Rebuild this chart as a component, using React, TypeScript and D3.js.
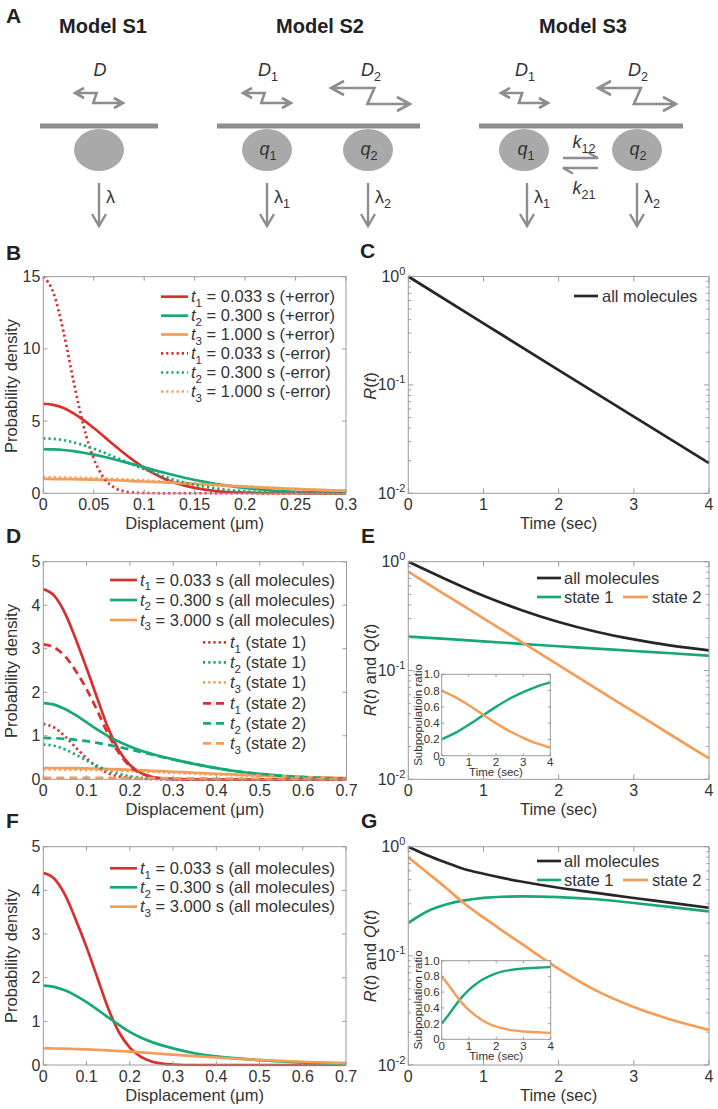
import React from 'react';
import * as d3 from 'd3';

const FONT = "'Liberation Sans', Arial, Helvetica, sans-serif";
const C_RED = '#d7302f';
const C_GREEN = '#16a878';
const C_ORANGE = '#f59d57';
const C_BLACK = '#262626';
const C_TEXT = '#333333';
const C_AXIS = '#9c9c9c';
const C_DIAG = '#8d8d8d';
const C_CIRCLE = '#a9a9a9';

// ---------- Panel B data ----------
const bDisp = [0, 0.01, 0.02, 0.03, 0.04, 0.05, 0.06, 0.07, 0.08, 0.09, 0.1, 0.12, 0.14, 0.16, 0.18, 0.2, 0.22, 0.24, 0.26, 0.28, 0.3];
const bRedPlus = [6.2, 6.12, 5.9, 5.54, 5.07, 4.52, 3.94, 3.35, 2.77, 2.24, 1.76, 1.01, 0.53, 0.25, 0.1, 0.04, 0.015, 0.005, 0.001, 0, 0];
const bGreenPlus = [3.06, 3.04, 3.0, 2.92, 2.81, 2.68, 2.53, 2.36, 2.18, 1.99, 1.8, 1.42, 1.08, 0.79, 0.55, 0.37, 0.23, 0.14, 0.08, 0.05, 0.03];
const bOrangePlus = [0.99, 0.988, 0.982, 0.973, 0.96, 0.944, 0.925, 0.902, 0.877, 0.849, 0.818, 0.753, 0.682, 0.608, 0.533, 0.462, 0.395, 0.33, 0.274, 0.224, 0.179];
const bRedMinus = [15, 13.9, 11.2, 7.75, 4.63, 2.4, 1.07, 0.41, 0.14, 0.04, 0.01, 0, 0, 0, 0, 0, 0, 0, 0, 0, 0];
const bGreenMinus = [3.8, 3.77, 3.68, 3.53, 3.33, 3.09, 2.82, 2.53, 2.24, 1.94, 1.66, 1.15, 0.75, 0.46, 0.26, 0.14, 0.07, 0.03, 0.015, 0.006, 0.002];
const bOrangeMinus = [1.1, 1.098, 1.09, 1.08, 1.064, 1.044, 1.02, 0.994, 0.963, 0.93, 0.894, 0.816, 0.733, 0.647, 0.561, 0.48, 0.403, 0.333, 0.27, 0.216, 0.17];
const bXTicks = [0, 0.05, 0.1, 0.15, 0.2, 0.25, 0.3];
const bXLabels = ['0', '0.05', '0.1', '0.15', '0.2', '0.25', '0.3'];
const bYTicks = [0, 5, 10, 15];
const bTimes = ['0.033', '0.300', '1.000'];

// ---------- Panel C data ----------
const cTime = [0, 1, 2, 3, 4];
const cAll = [1.0, 0.37, 0.137, 0.051, 0.019];

// ---------- Panel D data ----------
const dDisp = [0, 0.025, 0.05, 0.075, 0.1, 0.125, 0.15, 0.175, 0.2, 0.225, 0.25, 0.275, 0.3, 0.35, 0.4, 0.45, 0.5, 0.55, 0.6, 0.65, 0.7];
const dRedAll = [4.37, 4.22, 3.82, 3.22, 2.55, 1.85, 1.17, 0.66, 0.33, 0.15, 0.06, 0.02, 0.006, 0, 0, 0, 0, 0, 0, 0, 0];
const dGreenAll = [1.75, 1.715, 1.616, 1.473, 1.308, 1.141, 0.99, 0.861, 0.753, 0.663, 0.587, 0.518, 0.458, 0.35, 0.257, 0.18, 0.124, 0.08, 0.05, 0.03, 0.018];
const dOrangeAll = [0.26, 0.26, 0.258, 0.255, 0.25, 0.244, 0.236, 0.228, 0.218, 0.208, 0.197, 0.186, 0.174, 0.151, 0.128, 0.106, 0.086, 0.068, 0.053, 0.04, 0.03];
const dRedS1 = [1.27, 1.19, 0.99, 0.73, 0.48, 0.28, 0.14, 0.06, 0.03, 0.01, 0.003, 0, 0, 0, 0, 0, 0, 0, 0, 0, 0];
const dGreenS1 = [0.8, 0.77, 0.686, 0.566, 0.432, 0.305, 0.2, 0.121, 0.068, 0.035, 0.017, 0.008, 0.003, 0, 0, 0, 0, 0, 0, 0, 0];
const dOrangeS1 = [0.225, 0.225, 0.223, 0.22, 0.216, 0.211, 0.204, 0.197, 0.188, 0.179, 0.17, 0.16, 0.15, 0.13, 0.11, 0.091, 0.074, 0.058, 0.045, 0.034, 0.025];
const dRedS2 = [3.1, 3.03, 2.83, 2.49, 2.07, 1.57, 1.03, 0.6, 0.3, 0.14, 0.057, 0.02, 0.006, 0, 0, 0, 0, 0, 0, 0, 0];
const dGreenS2 = [0.95, 0.945, 0.93, 0.907, 0.876, 0.836, 0.79, 0.74, 0.685, 0.628, 0.57, 0.51, 0.455, 0.35, 0.257, 0.18, 0.124, 0.08, 0.05, 0.03, 0.018];
const dOrangeS2 = [0.035, 0.035, 0.035, 0.035, 0.034, 0.033, 0.032, 0.031, 0.03, 0.029, 0.027, 0.026, 0.024, 0.021, 0.018, 0.015, 0.012, 0.01, 0.008, 0.006, 0.005];
const dXTicks = [0, 0.1, 0.2, 0.3, 0.4, 0.5, 0.6, 0.7];
const dYTicks = [0, 1, 2, 3, 4, 5];
const dTimes = ['0.033', '0.300', '3.000'];

// ---------- Panel E data ----------
const eTime = [0, 0.5, 1, 1.5, 2, 2.5, 3, 3.5, 4];
const eAll = [1.0, 0.69, 0.486, 0.36, 0.279, 0.227, 0.193, 0.169, 0.153];
const eState1 = [0.205, 0.195, 0.185, 0.176, 0.167, 0.159, 0.151, 0.144, 0.137];
const eState2 = [0.81, 0.494, 0.301, 0.184, 0.112, 0.068, 0.0417, 0.0254, 0.0156];
const eRatio1 = [0.2, 0.28, 0.38, 0.49, 0.6, 0.7, 0.78, 0.85, 0.9];
const eRatio2 = [0.8, 0.72, 0.62, 0.51, 0.4, 0.3, 0.22, 0.15, 0.1];

// ---------- Panel F data ----------
const fDisp = [0, 0.025, 0.05, 0.075, 0.1, 0.125, 0.15, 0.175, 0.2, 0.225, 0.25, 0.275, 0.3, 0.35, 0.4, 0.45, 0.5, 0.55, 0.6, 0.65, 0.7];
const fRed = [4.4, 4.27, 3.9, 3.33, 2.7, 2.0, 1.3, 0.75, 0.4, 0.19, 0.08, 0.03, 0.012, 0, 0, 0, 0, 0, 0, 0, 0];
const fGreen = [1.82, 1.79, 1.71, 1.59, 1.44, 1.27, 1.09, 0.92, 0.76, 0.63, 0.53, 0.45, 0.38, 0.27, 0.2, 0.15, 0.11, 0.08, 0.055, 0.035, 0.02];
const fOrange = [0.38, 0.378, 0.374, 0.367, 0.358, 0.347, 0.334, 0.32, 0.305, 0.289, 0.272, 0.255, 0.238, 0.204, 0.172, 0.142, 0.116, 0.093, 0.074, 0.058, 0.045];

// ---------- Panel G data ----------
const gTime = [0, 0.25, 0.5, 0.75, 1, 1.25, 1.5, 2, 2.5, 3, 3.5, 4];
const gAll = [1.0, 0.835, 0.715, 0.622, 0.565, 0.518, 0.48, 0.421, 0.378, 0.339, 0.306, 0.276];
const gState1 = [0.2, 0.255, 0.295, 0.322, 0.34, 0.348, 0.35, 0.345, 0.33, 0.305, 0.28, 0.255];
const gState2 = [0.8, 0.58, 0.42, 0.3, 0.225, 0.17, 0.13, 0.076, 0.048, 0.034, 0.026, 0.021];
const gRatio1 = [0.2, 0.31, 0.43, 0.54, 0.63, 0.7, 0.76, 0.84, 0.88, 0.9, 0.91, 0.92];
const gRatio2 = [0.8, 0.69, 0.57, 0.46, 0.37, 0.3, 0.24, 0.16, 0.12, 0.1, 0.09, 0.08];

const timeTicks = [0, 1, 2, 3, 4];
const logTicks = [0.01, 0.1, 1];
const logExps = ['-2', '-1', '0'];
const ratioTicks = [0, 0.2, 0.4, 0.6, 0.8, 1.0];
const ratioLabels = ['0', '0.2', '0.4', '0.6', '0.8', '1.0'];

const DOT = '2.2 3';
const DASH = '8 5';

type Series = { x: number[]; y: number[]; color: string; dash?: string; w?: number };

type AxesProps = {
  id: string;
  l: number; t: number; r: number; b: number;
  xs: (v: number) => number;
  ys: (v: number) => number;
  xTicks: number[];
  xLabels: React.ReactNode[];
  yTicks: number[];
  yLabels: React.ReactNode[];
  minorY?: number[];
  series: Series[];
  fs: number;
  tick: number;
  xLabY: number;
  yLabX: number;
  yLabDy: number;
  white?: boolean;
  lw?: number;
};

function Axes(p: AxesProps) {
  const lineGen = (s: Series) =>
    d3.line<number>()
      .x((_, i) => p.xs(s.x[i]))
      .y((d) => p.ys(d))
      .curve(d3.curveMonotoneX)(s.y) || '';
  return (
    <g>
      {p.white && <rect x={p.l} y={p.t} width={p.r - p.l} height={p.b - p.t} fill="#fff" />}
      <clipPath id={p.id}>
        <rect x={p.l - 1} y={p.t - 1.5} width={p.r - p.l + 2} height={p.b - p.t + 3} />
      </clipPath>
      <g clipPath={`url(#${p.id})`}>
        {p.series.map((s, i) => (
          <path key={i} d={lineGen(s)} fill="none" stroke={s.color} strokeWidth={s.w ?? p.lw ?? 2.7}
            strokeDasharray={s.dash} strokeLinejoin="round" />
        ))}
      </g>
      <g stroke={C_AXIS} strokeWidth={1}>
        {p.xTicks.map((v, i) => (
          <g key={'xt' + i}>
            <line x1={p.xs(v)} x2={p.xs(v)} y1={p.b} y2={p.b - p.tick} />
            <line x1={p.xs(v)} x2={p.xs(v)} y1={p.t} y2={p.t + p.tick} />
          </g>
        ))}
        {p.yTicks.map((v, i) => (
          <g key={'yt' + i}>
            <line x1={p.l} x2={p.l + p.tick} y1={p.ys(v)} y2={p.ys(v)} />
            <line x1={p.r} x2={p.r - p.tick} y1={p.ys(v)} y2={p.ys(v)} />
          </g>
        ))}
        {(p.minorY || []).map((v, i) => (
          <g key={'ym' + i}>
            <line x1={p.l} x2={p.l + p.tick * 0.55} y1={p.ys(v)} y2={p.ys(v)} />
            <line x1={p.r} x2={p.r - p.tick * 0.55} y1={p.ys(v)} y2={p.ys(v)} />
          </g>
        ))}
      </g>
      <rect x={p.l} y={p.t} width={p.r - p.l} height={p.b - p.t} fill="none" stroke={C_AXIS} strokeWidth={1} />
      <g fontFamily={FONT} fontSize={p.fs} fill={C_TEXT}>
        {p.xTicks.map((v, i) => (
          <text key={'xl' + i} x={p.xs(v)} y={p.xLabY} textAnchor="middle">{p.xLabels[i]}</text>
        ))}
        {p.yTicks.map((v, i) => (
          <text key={'yl' + i} x={p.yLabX} y={p.ys(v) + p.yLabDy} textAnchor="end">{p.yLabels[i]}</text>
        ))}
      </g>
    </g>
  );
}

function SubT({ base, sub, rest, fs, italic = true }: { base: string; sub: string; rest?: string; fs: number; italic?: boolean }) {
  return (
    <>
      <tspan fontStyle={italic ? 'italic' : 'normal'}>{base}</tspan>
      <tspan fontSize={fs * 0.7} dy={fs * 0.28}>{sub}</tspan>
      {rest !== undefined && <tspan dy={-fs * 0.28}>{rest}</tspan>}
    </>
  );
}

type LegendRow = { x1: number; x2: number; y: number; color: string; dash?: string; tx: number; content: React.ReactNode };

function Legend({ rows, fs }: { rows: LegendRow[]; fs: number }) {
  return (
    <g fontFamily={FONT} fontSize={fs} fill={C_TEXT}>
      {rows.map((r, i) => (
        <g key={i}>
          <line x1={r.x1} x2={r.x2} y1={r.y} y2={r.y} stroke={r.color} strokeWidth={2.7} strokeDasharray={r.dash} />
          <text x={r.tx} y={r.y + fs * 0.35}>{r.content}</text>
        </g>
      ))}
    </g>
  );
}

function logMinor(): number[] {
  const out: number[] = [];
  [0.01, 0.1].forEach((d) => {
    for (let k = 2; k <= 9; k++) out.push(k * d);
  });
  return out;
}

function ZigArrow({ x0, x1, yT, yB, fa, fb, hs, hv }: { x0: number; x1: number; yT: number; yB: number; fa: number; fb: number; hs: number; hv: number }) {
  const w = x1 - x0;
  const xa = x0 + fa * w;
  const xb = x0 + fb * w;
  const d = `M${x0 + hs},${yT - hv} L${x0},${yT} L${x0 + hs},${yT + hv} M${x0},${yT} H${xa} L${xb},${yB} H${x1} M${x1 - hs},${yB - hv} L${x1},${yB} L${x1 - hs},${yB + hv}`;
  return <path d={d} fill="none" stroke={C_DIAG} strokeWidth={2.6} strokeLinejoin="miter" strokeLinecap="butt" />;
}

function DownArrow({ x }: { x: number }) {
  return (
    <path d={`M${x},183 V226 M${x - 7},214 L${x},226 L${x + 7},214`} fill="none" stroke={C_DIAG} strokeWidth={2.4} />
  );
}

function PanelA() {
  const fsL = 18;
  const ell = (cx: number) => <ellipse cx={cx} cy={150} rx={25} ry={21} fill={C_CIRCLE} />;
  const bar = (x1: number, x2: number) => <line x1={x1} x2={x2} y1={126} y2={126} stroke={C_DIAG} strokeWidth={5} />;
  return (
    <g>
      <g fontFamily={FONT} fontWeight="bold" fill="#222">
        <text x={6} y={23} fontSize={21}>A</text>
        <text x={103} y={33} fontSize={20} textAnchor="middle">Model S1</text>
        <text x={320} y={33} fontSize={20} textAnchor="middle">Model S2</text>
        <text x={583} y={33} fontSize={20} textAnchor="middle">Model S3</text>
      </g>
      {bar(40, 158)}
      {bar(217, 420)}
      {bar(479, 683)}
      {ell(99)}
      {ell(267)}
      {ell(368)}
      {ell(524)}
      {ell(637)}
      <ZigArrow x0={75} x1={123} yT={93} yB={103} fa={0.45} fb={0.38} hs={9} hv={5} />
      <ZigArrow x0={243} x1={291} yT={93} yB={103} fa={0.45} fb={0.38} hs={9} hv={5} />
      <ZigArrow x0={331} x1={410} yT={88} yB={104} fa={0.55} fb={0.46} hs={13} hv={7} />
      <ZigArrow x0={501} x1={548} yT={93} yB={103} fa={0.45} fb={0.38} hs={9} hv={5} />
      <ZigArrow x0={598} x1={676} yT={88} yB={104} fa={0.55} fb={0.46} hs={13} hv={7} />
      <DownArrow x={99} />
      <DownArrow x={267} />
      <DownArrow x={368} />
      <DownArrow x={527} />
      <DownArrow x={637} />
      <path d="M563,158 H598 L588,152.5 M598,168 H563 L573,173.5" fill="none" stroke={C_DIAG} strokeWidth={2.4} />
      <g fontFamily={FONT} fontSize={fsL} fill={C_TEXT}>
        <text x={100} y={76} textAnchor="middle" fontStyle="italic">D</text>
        <text x={268} y={76} textAnchor="middle"><SubT base="D" sub="1" fs={fsL} /></text>
        <text x={371} y={76} textAnchor="middle"><SubT base="D" sub="2" fs={fsL} /></text>
        <text x={525} y={76} textAnchor="middle"><SubT base="D" sub="1" fs={fsL} /></text>
        <text x={638} y={76} textAnchor="middle"><SubT base="D" sub="2" fs={fsL} /></text>
        <text x={268} y={155} textAnchor="middle"><SubT base="q" sub="1" fs={fsL} /></text>
        <text x={369} y={155} textAnchor="middle"><SubT base="q" sub="2" fs={fsL} /></text>
        <text x={526} y={155} textAnchor="middle"><SubT base="q" sub="1" fs={fsL} /></text>
        <text x={638} y={155} textAnchor="middle"><SubT base="q" sub="2" fs={fsL} /></text>
        <text x={584} y={148} textAnchor="middle"><SubT base="k" sub="12" fs={fsL} /></text>
        <text x={584} y={194} textAnchor="middle"><SubT base="k" sub="21" fs={fsL} /></text>
        <text x={106} y={203}>λ</text>
        <text x={274} y={203}><SubT base="λ" sub="1" fs={fsL} italic={false} /></text>
        <text x={375} y={203}><SubT base="λ" sub="2" fs={fsL} italic={false} /></text>
        <text x={534} y={203}><SubT base="λ" sub="1" fs={fsL} italic={false} /></text>
        <text x={644} y={203}><SubT base="λ" sub="2" fs={fsL} italic={false} /></text>
      </g>
    </g>
  );
}

function PanelLetter({ x, y, s }: { x: number; y: number; s: string }) {
  return <text x={x} y={y} fontFamily={FONT} fontWeight="bold" fontSize={21} fill="#222">{s}</text>;
}

function YLabel({ x, y, children, fs = 16.5 }: { x: number; y: number; children: React.ReactNode; fs?: number }) {
  return (
    <text transform={`translate(${x},${y}) rotate(-90)`} textAnchor="middle" fontFamily={FONT} fontSize={fs} fill={C_TEXT}>{children}</text>
  );
}

function XLabel({ x, y, children, fs = 16.5 }: { x: number; y: number; children: React.ReactNode; fs?: number }) {
  return <text x={x} y={y} textAnchor="middle" fontFamily={FONT} fontSize={fs} fill={C_TEXT}>{children}</text>;
}

const logLabel = (e: string) => (
  <>10<tspan dy={-7} fontSize={11}>{e}</tspan></>
);

export default function App() {
  const FS = 16.5;
  const TFS = 16;
  const minor = logMinor();

  // Panel B
  const B = { l: 43.3, t: 276.7, r: 346, b: 493.3 };
  const bx = d3.scaleLinear().domain([0, 0.3]).range([B.l, B.r]);
  const by = d3.scaleLinear().domain([0, 15]).range([B.b, B.t]);
  // Panel C
  const C = { l: 408.3, t: 276.5, r: 709, b: 493.3 };
  const cx = d3.scaleLinear().domain([0, 4]).range([C.l, C.r]);
  const cy = d3.scaleLog().domain([0.01, 1]).range([C.b, C.t]);
  // Panel D
  const D = { l: 43.3, t: 561.7, r: 346.5, b: 779.3 };
  const dx = d3.scaleLinear().domain([0, 0.7]).range([D.l, D.r]);
  const dy = d3.scaleLinear().domain([0, 5]).range([D.b, D.t]);
  // Panel E
  const E = { l: 408.3, t: 561.7, r: 709, b: 779.3 };
  const ex = d3.scaleLinear().domain([0, 4]).range([E.l, E.r]);
  const ey = d3.scaleLog().domain([0.01, 1]).range([E.b, E.t]);
  const EI = { l: 441.7, t: 674.3, r: 550.3, b: 755.7 };
  const eix = d3.scaleLinear().domain([0, 4]).range([EI.l, EI.r]);
  const eiy = d3.scaleLinear().domain([0, 1]).range([EI.b, EI.t]);
  // Panel F
  const F = { l: 43.3, t: 846.7, r: 346, b: 1065 };
  const fx = d3.scaleLinear().domain([0, 0.7]).range([F.l, F.r]);
  const fy = d3.scaleLinear().domain([0, 5]).range([F.b, F.t]);
  // Panel G
  const G = { l: 408.3, t: 846.7, r: 709, b: 1065 };
  const gx = d3.scaleLinear().domain([0, 4]).range([G.l, G.r]);
  const gy = d3.scaleLog().domain([0.01, 1]).range([G.b, G.t]);
  const GI = { l: 441.7, t: 960.7, r: 550.7, b: 1039.3 };
  const gix = d3.scaleLinear().domain([0, 4]).range([GI.l, GI.r]);
  const giy = d3.scaleLinear().domain([0, 1]).range([GI.b, GI.t]);

  const colors = [C_RED, C_GREEN, C_ORANGE];
  const IFS = 11.5;
  const XTY = 17;
  const XLY = 35.5;

  const bRowsY = [296.7, 315.7, 334.5, 353.3, 372.5, 391.5];
  const bRows: LegendRow[] = [0, 1, 2, 3, 4, 5].map((i) => ({
    x1: 161, x2: 188, y: bRowsY[i], color: colors[i % 3], dash: i >= 3 ? DOT : undefined, tx: 191,
    content: <SubT base="t" sub={String((i % 3) + 1)} rest={` = ${bTimes[i % 3]} s (${i < 3 ? '+' : '-'}error)`} fs={FS} />,
  }));

  const dRowsY = [580, 600, 620, 642.3, 662.3, 682.3, 703.3, 723.3, 743.3];
  const dRows: LegendRow[] = dRowsY.map((y, i) => {
    const k = i % 3;
    if (i < 3) {
      return {
        x1: 110, x2: 137, y, color: colors[k], tx: 140,
        content: <SubT base="t" sub={String(k + 1)} rest={` = ${dTimes[k]} s (all molecules)`} fs={FS} />,
      };
    }
    const st = i < 6 ? 1 : 2;
    return {
      x1: 203, x2: 227, y, color: colors[k], dash: st === 1 ? DOT : DASH, tx: 230,
      content: <SubT base="t" sub={String(k + 1)} rest={` (state ${st})`} fs={FS} />,
    };
  });

  const fRowsY = [868.3, 887.3, 906.7];
  const fRows: LegendRow[] = fRowsY.map((y, k) => ({
    x1: 110, x2: 137, y, color: colors[k], tx: 140,
    content: <SubT base="t" sub={String(k + 1)} rest={` = ${dTimes[k]} s (all molecules)`} fs={FS} />,
  }));

  const stateRows = (y1: number, y2: number): LegendRow[] => [
    { x1: 537, x2: 561, y: y1, color: C_BLACK, tx: 564, content: 'all molecules' },
    { x1: 537, x2: 561, y: y2, color: C_GREEN, tx: 564, content: 'state 1' },
    { x1: 623, x2: 648, y: y2, color: C_ORANGE, tx: 652, content: 'state 2' },
  ];

  const RQ = (
    <>
      <tspan fontStyle="italic">R</tspan>(<tspan fontStyle="italic">t</tspan>) and <tspan fontStyle="italic">Q</tspan>(<tspan fontStyle="italic">t</tspan>)
    </>
  );

  return (
    <svg width={718} height={1109} viewBox="0 0 718 1109" style={{ position: 'absolute', left: 0, top: 0, background: '#fff' }}>
      <rect x={0} y={0} width={718} height={1109} fill="#fff" />
      <PanelA />

      {/* Panel B */}
      <PanelLetter x={6} y={260} s="B" />
      <Axes id="clipB" {...B} xs={bx} ys={by} xTicks={bXTicks} xLabels={bXLabels} yTicks={bYTicks}
        yLabels={bYTicks.map(String)} fs={TFS} tick={4} xLabY={B.b + XTY} yLabX={B.l - 3} yLabDy={5.5}
        series={[
          { x: bDisp, y: bRedPlus, color: C_RED },
          { x: bDisp, y: bGreenPlus, color: C_GREEN },
          { x: bDisp, y: bOrangePlus, color: C_ORANGE },
          { x: bDisp, y: bRedMinus, color: C_RED, dash: DOT },
          { x: bDisp, y: bGreenMinus, color: C_GREEN, dash: DOT },
          { x: bDisp, y: bOrangeMinus, color: C_ORANGE, dash: DOT },
        ]} />
      <Legend rows={bRows} fs={FS} />
      <XLabel x={(B.l + B.r) / 2} y={B.b + XLY}>Displacement (μm)</XLabel>
      <YLabel x={17} y={386}>Probability density</YLabel>

      {/* Panel C */}
      <PanelLetter x={360} y={258} s="C" />
      <Axes id="clipC" {...C} xs={cx} ys={cy} xTicks={timeTicks} xLabels={timeTicks.map(String)} yTicks={logTicks}
        yLabels={logExps.map(logLabel)} minorY={minor} fs={TFS} tick={5} xLabY={C.b + XTY} yLabX={C.l - 3} yLabDy={5.5}
        series={[{ x: cTime, y: cAll, color: C_BLACK }]} />
      <Legend rows={[{ x1: 574, x2: 598, y: 296, color: C_BLACK, tx: 602, content: 'all molecules' }]} fs={FS} />
      <XLabel x={(C.l + C.r) / 2} y={C.b + XLY}>Time (sec)</XLabel>
      <YLabel x={376} y={386}><tspan fontStyle="italic">R</tspan>(<tspan fontStyle="italic">t</tspan>)</YLabel>

      {/* Panel D */}
      <PanelLetter x={6} y={543} s="D" />
      <Axes id="clipD" {...D} xs={dx} ys={dy} xTicks={dXTicks} xLabels={dXTicks.map(String)} yTicks={dYTicks}
        yLabels={dYTicks.map(String)} fs={TFS} tick={4} xLabY={D.b + XTY} yLabX={D.l - 3} yLabDy={5.5}
        series={[
          { x: dDisp, y: dRedAll, color: C_RED },
          { x: dDisp, y: dGreenAll, color: C_GREEN },
          { x: dDisp, y: dOrangeAll, color: C_ORANGE },
          { x: dDisp, y: dRedS1, color: C_RED, dash: DOT },
          { x: dDisp, y: dGreenS1, color: C_GREEN, dash: DOT },
          { x: dDisp, y: dOrangeS1, color: C_ORANGE, dash: DOT },
          { x: dDisp, y: dRedS2, color: C_RED, dash: DASH },
          { x: dDisp, y: dGreenS2, color: C_GREEN, dash: DASH },
          { x: dDisp, y: dOrangeS2, color: C_ORANGE, dash: DASH },
        ]} />
      <Legend rows={dRows} fs={FS} />
      <XLabel x={(D.l + D.r) / 2} y={D.b + XLY}>Displacement (μm)</XLabel>
      <YLabel x={17} y={671}>Probability density</YLabel>

      {/* Panel E */}
      <PanelLetter x={361} y={543} s="E" />
      <Axes id="clipE" {...E} xs={ex} ys={ey} xTicks={timeTicks} xLabels={timeTicks.map(String)} yTicks={logTicks}
        yLabels={logExps.map(logLabel)} minorY={minor} fs={TFS} tick={5} xLabY={E.b + XTY} yLabX={E.l - 3} yLabDy={5.5}
        series={[
          { x: eTime, y: eAll, color: C_BLACK },
          { x: eTime, y: eState1, color: C_GREEN },
          { x: eTime, y: eState2, color: C_ORANGE },
        ]} />
      <Legend rows={stateRows(578, 597)} fs={FS} />
      <YLabel x={376} y={670}>{RQ}</YLabel>
      <Axes id="clipEI" {...EI} white xs={eix} ys={eiy} xTicks={timeTicks} xLabels={timeTicks.map(String)} yTicks={ratioTicks}
        yLabels={ratioLabels} fs={IFS} tick={2.5} xLabY={EI.b + 10} yLabX={EI.l - 2} yLabDy={4} lw={2.4}
        series={[
          { x: eTime, y: eRatio1, color: C_GREEN },
          { x: eTime, y: eRatio2, color: C_ORANGE },
        ]} />
      <XLabel x={(EI.l + EI.r) / 2} y={EI.b + 20.5} fs={IFS}>Time (sec)</XLabel>
      <YLabel x={422} y={(EI.t + EI.b) / 2} fs={IFS}>Subpopulatioin ratio</YLabel>
      <XLabel x={(E.l + E.r) / 2} y={E.b + XLY}>Time (sec)</XLabel>

      {/* Panel F */}
      <PanelLetter x={6} y={828} s="F" />
      <Axes id="clipF" {...F} xs={fx} ys={fy} xTicks={dXTicks} xLabels={dXTicks.map(String)} yTicks={dYTicks}
        yLabels={dYTicks.map(String)} fs={TFS} tick={4} xLabY={F.b + XTY} yLabX={F.l - 3} yLabDy={5.5}
        series={[
          { x: fDisp, y: fRed, color: C_RED },
          { x: fDisp, y: fGreen, color: C_GREEN },
          { x: fDisp, y: fOrange, color: C_ORANGE },
        ]} />
      <Legend rows={fRows} fs={FS} />
      <XLabel x={(F.l + F.r) / 2} y={F.b + XLY}>Displacement (μm)</XLabel>
      <YLabel x={17} y={956}>Probability density</YLabel>

      {/* Panel G */}
      <PanelLetter x={361} y={828} s="G" />
      <Axes id="clipG" {...G} xs={gx} ys={gy} xTicks={timeTicks} xLabels={timeTicks.map(String)} yTicks={logTicks}
        yLabels={logExps.map(logLabel)} minorY={minor} fs={TFS} tick={5} xLabY={G.b + XTY} yLabX={G.l - 3} yLabDy={5.5}
        series={[
          { x: gTime, y: gAll, color: C_BLACK },
          { x: gTime, y: gState1, color: C_GREEN },
          { x: gTime, y: gState2, color: C_ORANGE },
        ]} />
      <Legend rows={stateRows(861, 880)} fs={FS} />
      <YLabel x={376} y={956}>{RQ}</YLabel>
      <Axes id="clipGI" {...GI} white xs={gix} ys={giy} xTicks={timeTicks} xLabels={timeTicks.map(String)} yTicks={ratioTicks}
        yLabels={ratioLabels} fs={IFS} tick={2.5} xLabY={GI.b + 11} yLabX={GI.l - 2} yLabDy={4} lw={2.4}
        series={[
          { x: gTime, y: gRatio1, color: C_GREEN },
          { x: gTime, y: gRatio2, color: C_ORANGE },
        ]} />
      <XLabel x={(GI.l + GI.r) / 2} y={GI.b + 21} fs={IFS}>Time (sec)</XLabel>
      <YLabel x={422} y={(GI.t + GI.b) / 2} fs={IFS}>Subpopulation ratio</YLabel>
      <XLabel x={(G.l + G.r) / 2} y={G.b + XLY}>Time (sec)</XLabel>
    </svg>
  );
}
